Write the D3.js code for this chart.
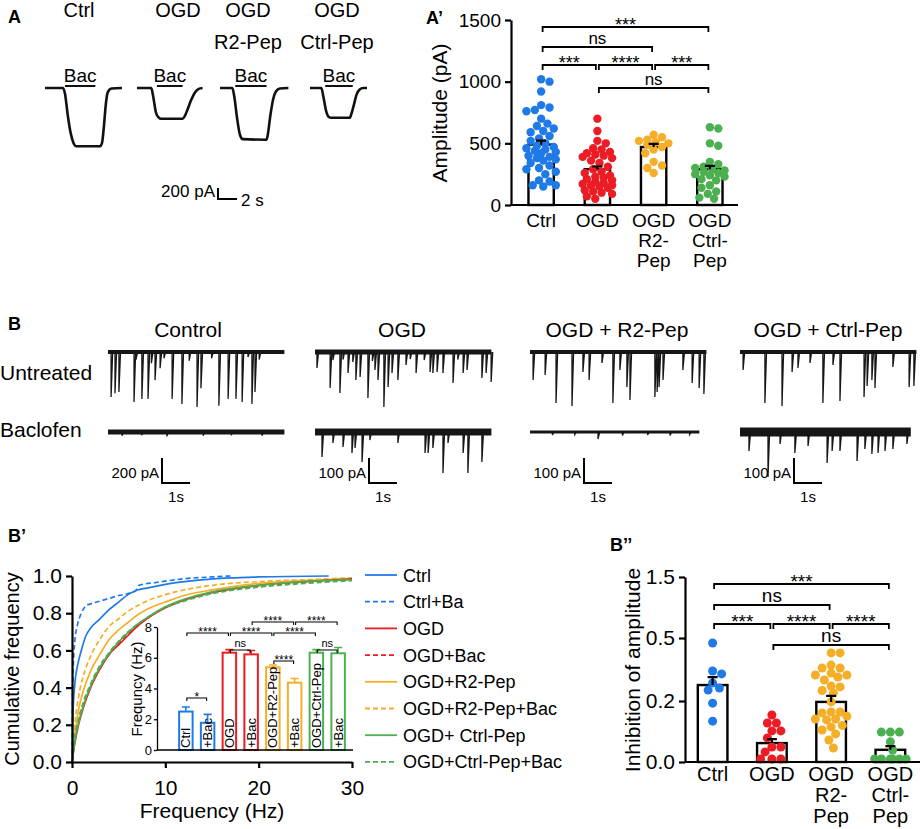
<!DOCTYPE html>
<html>
<head>
<meta charset="utf-8">
<script src="https://cdn.jsdelivr.net/npm/d3@7"></script>
<style>
  body { margin: 0; background: #fff; }
  svg text { font-family: "Liberation Sans", Arial, sans-serif; fill: #000; }
</style>
</head>
<body>
<svg id="fig" width="920" height="829"></svg>
<script>
// ---------------- data ----------------
var groupColors = ["#1f7ae8", "#ec1c24", "#f5ae27", "#4caf50"];

// Panel A: baclofen evoked currents, [time s, current pA]
var aTitleTop = ["Ctrl", "OGD", "OGD", "OGD"];
var aTitleSub = ["", "", "R2-Pep", "Ctrl-Pep"];
var aTraceCtrl = [[0,0],[1.9,0],[2.1,-100],[2.4,-500],[2.7,-820],[3.0,-1000],[3.3,-1060],[5.8,-1060],[6.0,-1000],[6.2,-700],[6.4,-300],[6.6,-80],[7.0,-10],[8.1,0]];
var aTraceOgd = [[0,0],[1.5,0],[1.7,-150],[2.0,-450],[2.3,-540],[2.5,-560],[4.8,-560],[5.0,-520],[5.3,-400],[5.7,-220],[6.1,-80],[6.5,-15],[6.9,0]];
var aTraceR2 = [[0,0],[1.3,0],[1.5,-150],[1.8,-550],[2.1,-850],[2.4,-930],[4.9,-940],[5.0,-880],[5.3,-500],[5.6,-200],[5.9,-60],[6.3,-10],[7.2,0]];
var aTraceCp = [[0,0],[1.2,0],[1.4,-150],[1.7,-420],[2.0,-530],[2.2,-540],[4.2,-540],[4.3,-500],[4.6,-320],[4.9,-120],[5.2,-30],[5.6,0],[6.0,0]];
var aBacOnOff = [[2.1,5.3],[2.1,4.8],[1.6,4.9],[1.6,4.5]];

// Panel A': amplitude (pA)
var ampGroups = [["Ctrl"], ["OGD"], ["OGD","R2-","Pep"], ["OGD","Ctrl-","Pep"]];
var ampMean = [490, 290, 470, 290];
var ampSem = [32, 22, 25, 28];
var ampCtrl = [1020,1000,920,810,790,770,760,700,660,640,620,600,590,560,540,520,500,480,470,460,450,440,430,420,400,390,380,370,360,340,320,300,290,270,250,200,190,160,160,150];
var ampOgd = [700,600,520,500,460,450,430,420,410,400,390,380,360,340,310,290,270,260,240,230,220,210,200,190,180,170,160,160,150,140,120,110,100,90,70,50];
var ampR2 = [570,550,530,520,510,500,490,470,450,420,350,320,300,260];
var ampCp = [630,620,500,480,350,330,310,300,290,280,270,260,250,240,230,210,200,160,140,110,90,60,50];
var ampTicks = [0, 500, 1000, 1500];
// [group a, group b, label, row]
var ampSig = [[0,3,"***",0],[0,2,"ns",1],[0,1,"***",2],[1,2,"****",2],[2,3,"***",2],[1,3,"ns",3]];

// Panel B: sIPSC traces, events [time s, amplitude pA]
var bTitles = ["Control", "OGD", "OGD + R2-Pep", "OGD + Ctrl-Pep"];
var bScalePA = [200, 100, 100, 100];
var bDurUntreated = [6.3, 6.3, 6.3, 6.3];
var bDurBaclofen = [6.3, 6.3, 6.05, 6.1];
var evCtrlU = [[0.11,360],[0.25,330],[0.39,320],[0.93,400],[1.0,60],[1.21,375],[1.43,375],[1.55,90],[1.68,225],[1.86,130],[2.0,50],[2.29,375],[2.64,415],[2.9,70],[3.18,440],[3.32,290],[3.7,50],[3.96,430],[4.29,375],[4.57,375],[4.79,400],[5.0,40],[5.14,415],[5.25,320],[5.4,60]];
var evCtrlB = [[0.5,30],[1.2,25],[2.1,35],[3.4,30],[4.4,25],[5.5,30]];
var evOgdU = [[0.07,64],[0.54,144],[0.64,32],[0.89,164],[1.0,30],[1.18,84],[1.35,40],[1.46,112],[1.61,100],[1.89,184],[2.05,36],[2.14,72],[2.25,112],[2.46,220],[2.61,140],[2.75,84],[2.96,112],[3.25,52],[3.4,28],[3.61,84],[3.9,32],[4.11,80],[4.21,84],[4.36,80],[4.57,84],[4.93,124],[5.1,30],[5.29,84],[5.43,72],[5.96,104],[6.11,84],[6.29,120]];
var evOgdB = [[0.25,100],[0.64,44],[1.0,60],[1.32,84],[1.43,64],[1.68,120],[1.96,32],[2.96,44],[3.93,84],[4.04,84],[4.21,64],[4.57,164],[4.75,44],[5.29,84],[5.46,164],[5.96,120]];
var evR2U = [[0.11,112],[0.54,92],[0.93,204],[1.5,216],[1.89,80],[2.11,112],[2.57,44],[2.96,204],[3.21,72],[3.46,140],[3.57,192],[4.46,180],[4.54,160],[4.61,140],[4.75,112],[5.46,72],[5.79,124],[6.04,144],[6.21,168]];
var evR2B = [[0.8,12],[1.6,10],[2.43,28],[3.3,14],[4.2,12],[5.0,14],[5.7,10]];
var evCpU = [[0.11,72],[0.89,204],[1.5,216],[1.86,80],[2.07,64],[2.5,44],[2.96,204],[3.32,52],[3.57,196],[4.43,180],[4.54,136],[4.71,112],[4.82,144],[5.46,60],[6.04,140],[6.21,136]];
var evCpB = [[0.32,76],[1.0,180],[1.43,48],[1.96,84],[2.43,56],[3.11,124],[3.29,76],[3.57,76],[4.18,116],[4.46,68],[4.71,88],[4.93,84],[5.18,76],[5.46,68],[5.96,48]];

// Panel B': cumulative frequency, [Hz, fraction]
var cumLabels = ["Ctrl","Ctrl+Ba","OGD","OGD+Bac","OGD+R2-Pep","OGD+R2-Pep+Bac","OGD+ Ctrl-Pep","OGD+Ctrl-Pep+Bac"];
var cumCtrl = [[0,0],[0.1,0.25],[0.3,0.42],[0.6,0.52],[1,0.6],[1.5,0.68],[2,0.72],[3,0.77],[4,0.82],[5,0.86],[6,0.9],[7,0.925],[8,0.935],[10,0.955],[13,0.975],[17,0.99],[20,0.995],[27.5,1.0]];
var cumCtrlBac = [[0,0],[0.1,0.45],[0.3,0.65],[0.6,0.74],[1,0.8],[1.5,0.84],[2,0.85],[3,0.865],[4,0.88],[5,0.895],[6,0.905],[6.8,0.92],[7.2,0.95],[9,0.965],[12,0.985],[15,0.995],[17,1.0]];
var cumOgd = [[0,0],[0.3,0.1],[0.7,0.2],[1.2,0.29],[2,0.4],[3,0.5],[4,0.58],[5,0.63],[6,0.68],[7,0.73],[8,0.77],[10,0.83],[12,0.87],[15,0.91],[20,0.95],[25,0.97],[30,0.985]];
var cumOgdBac = [[0,0],[0.3,0.12],[0.7,0.22],[1.2,0.31],[2,0.41],[3,0.51],[4,0.58],[5,0.64],[6,0.69],[7,0.73],[8,0.77],[10,0.83],[12,0.87],[15,0.91],[20,0.945],[25,0.965],[30,0.98]];
var cumR2 = [[0,0],[0.3,0.15],[0.7,0.28],[1.2,0.38],[2,0.49],[3,0.58],[4,0.66],[5,0.71],[6,0.75],[7,0.79],[8,0.82],[10,0.86],[12,0.895],[15,0.925],[20,0.96],[25,0.975],[30,0.985]];
var cumR2Bac = [[0,0],[0.3,0.2],[0.7,0.35],[1.2,0.46],[2,0.57],[3,0.66],[4,0.73],[5,0.77],[6,0.81],[7,0.84],[8,0.865],[10,0.9],[12,0.925],[15,0.95],[20,0.97],[25,0.98],[30,0.99]];
var cumCp = [[0,0],[0.3,0.11],[0.7,0.21],[1.2,0.3],[2,0.41],[3,0.51],[4,0.585],[5,0.645],[6,0.695],[7,0.74],[8,0.775],[10,0.835],[12,0.875],[15,0.915],[20,0.95],[25,0.97],[30,0.98]];
var cumCpBac = [[0,0],[0.3,0.13],[0.7,0.23],[1.2,0.32],[2,0.42],[3,0.52],[4,0.59],[5,0.65],[6,0.7],[7,0.74],[8,0.775],[10,0.83],[12,0.865],[15,0.905],[20,0.94],[25,0.96],[30,0.975]];

// B' inset: mean frequency (Hz)
var freqLabels = ["Ctrl","+Bac","OGD","+Bac","OGD+R2-Pep","+Bac","OGD+Ctrl-Pep","+Bac"];
var freqMean = [2.5, 1.77, 6.33, 6.22, 5.38, 4.38, 6.33, 6.29];
var freqSem = [0.3, 0.55, 0.2, 0.25, 0.15, 0.27, 0.2, 0.38];
var freqSig = [[0,1,"*",4],[0,2,"****",1],[2,4,"****",1],[4,6,"****",1],[3,5,"****",0],[5,7,"****",0],[2,3,"ns",2],[6,7,"ns",2],[4,5,"****",3]];

// Panel B'': inhibition of amplitude
var inhMean = [0.276, 0.062, 0.197, 0.040];
var inhSem = [0.038, 0.013, 0.027, 0.012];
var inhCtrl = [0.476,0.343,0.329,0.286,0.262,0.252,0.193,0.134];
var inhOgd = [0.154,0.128,0.128,0.102,0.102,0.079,0.049,0.049,0.033,0.01,0.01,0.01];
var inhR2 = [0.429,0.429,0.371,0.357,0.357,0.333,0.324,0.324,0.314,0.30,0.271,0.267,0.25,0.238,0.197,0.164,0.164,0.161,0.15,0.141,0.141,0.138,0.12,0.115,0.105,0.092,0.072,0.046];
var inhCp = [0.098,0.098,0.098,0.066,0.039,0.01,0.01,0.01,0.01,0.01,0.01];
var inhTicks = [0, 0.2, 0.5, 1.5];
var inhSig = [[0,3,"***",0],[0,2,"ns",1],[0,1,"***",2],[1,2,"****",2],[2,3,"****",2],[1,3,"ns",3]];

// ---------------- helpers ----------------
var svg = d3.select("#fig");

function label(x, y, s, size, anchor, weight) {
  return svg.append("text").attr("x", x).attr("y", y)
    .attr("text-anchor", anchor || "start")
    .attr("font-size", size).attr("font-weight", weight || "normal").text(s);
}
function vlabel(x, y, s, size) {
  return svg.append("text").attr("transform", "translate(" + x + "," + y + ") rotate(-90)")
    .attr("text-anchor", "middle").attr("font-size", size).text(s);
}
function styleAxis(g, size, w) {
  g.attr("font-size", size);
  g.select(".domain").attr("stroke-width", w).attr("stroke", "#000");
  g.selectAll(".tick line").attr("stroke-width", w).attr("stroke", "#000");
}
function bracket(g, x1, x2, y, drop, text, starSize, nsSize, lw) {
  g.append("path").attr("d", "M" + x1 + "," + (y + drop) + "V" + y + "H" + x2 + "V" + (y + drop))
    .attr("fill", "none").attr("stroke", "#000").attr("stroke-width", lw);
  var isNs = text === "ns";
  g.append("text").attr("x", (x1 + x2) / 2)
    .attr("y", isNs ? y - 3 : y + starSize * 0.22)
    .attr("text-anchor", "middle").attr("font-size", isNs ? nsSize : starSize).text(text);
}
// simple deterministic beeswarm
function swarm(vals, y, r, maxOff) {
  var placed = [];
  var pts = vals.map(function(v) { return {v: v, y: y(v)}; }).sort(function(a, b) { return a.y - b.y; });
  var step = r * 0.5, n = Math.floor(maxOff / step);
  pts.forEach(function(p) {
    var best = 0, bestScore = Infinity;
    for (var k = 0; k <= 2 * n; k++) {
      var off = (k % 2 ? 1 : -1) * Math.ceil(k / 2) * step;
      var overlap = 0;
      placed.forEach(function(q) {
        var d = Math.hypot(q.x - off, q.y - p.y);
        if (d < 2 * r * 0.95) overlap += 2 * r * 0.95 - d;
      });
      var score = overlap * 10 + Math.abs(off);
      if (score < bestScore) { bestScore = score; best = off; }
    }
    p.x = best; placed.push(p);
  });
  return placed;
}

// dot + bar panel (A' and B'')
function dotBarPanel(o) {
  var g = svg.append("g");
  var x = d3.scaleBand().domain(d3.range(o.means.length)).range(o.xRange)
    .paddingInner(o.pad).paddingOuter(o.pad / 2);
  var y = o.y;
  var cx = function(i) { return x(i) + x.bandwidth() / 2; };

  o.means.forEach(function(m, i) {
    g.append("rect").attr("x", x(i)).attr("y", y(m)).attr("width", x.bandwidth())
      .attr("height", y(0) - y(m)).attr("fill", "#fff").attr("stroke", "#000").attr("stroke-width", 2.4);
  });
  o.points.forEach(function(vals, i) {
    swarm(vals, y, o.r, o.spread).forEach(function(p) {
      g.append("circle").attr("cx", cx(i) + p.x).attr("cy", p.y).attr("r", o.r).attr("fill", groupColors[i]);
    });
  });
  o.means.forEach(function(m, i) {
    var top = y(m + o.sem[i]);
    g.append("path").attr("d", "M" + cx(i) + "," + y(m) + "V" + top + "M" + (cx(i) - 5) + "," + top + "H" + (cx(i) + 5))
      .attr("stroke", "#000").attr("stroke-width", 2.2).attr("fill", "none");
  });

  var ax = g.append("g").attr("transform", "translate(" + o.axisX + ",0)")
    .call(d3.axisLeft(y).tickValues(o.ticks).tickFormat(o.fmt).tickSize(6).tickSizeOuter(0).tickPadding(4));
  styleAxis(ax, o.tickSize, 2.2);
  g.append("line").attr("x1", o.axisX).attr("x2", o.xRange[1]).attr("y1", y(0)).attr("y2", y(0))
    .attr("stroke", "#000").attr("stroke-width", 2.2);

  o.groups.forEach(function(lines, i) {
    lines.forEach(function(s, k) {
      g.append("text").attr("x", cx(i)).attr("y", o.labelY + k * o.lineGap)
        .attr("text-anchor", "middle").attr("font-size", o.labelSize).text(s);
    });
  });
  o.sig.forEach(function(s) {
    var x1 = cx(s[0]) + 1.5, x2 = cx(s[1]) - 1.5;
    bracket(g, x1, x2, o.rows[s[3]], 5, s[2], o.starSize, o.nsSize, 1.8);
  });
}

// ---------------- Panel A ----------------
label(8, 23, "A", 18, "start", "bold");
var aStarts = [45, 137, 220, 310];
var aTitleX = [79, 178, 248, 337];
var aBase = 88;
var aTime = d3.scaleLinear().domain([0, 2]).range([0, 19]);
var aCur = d3.scaleLinear().domain([0, -200]).range([0, 11]);
[aTraceCtrl, aTraceOgd, aTraceR2, aTraceCp].forEach(function(tr, i) {
  var x0 = aStarts[i];
  var line = d3.line().x(function(d) { return x0 + aTime(d[0]); })
    .y(function(d) { return aBase + aCur(d[1]); }).curve(d3.curveMonotoneX);
  svg.append("path").attr("d", line(tr)).attr("fill", "none").attr("stroke", "#111")
    .attr("stroke-width", 2.6).attr("stroke-linejoin", "round");
  var b1 = x0 + aTime(aBacOnOff[i][0]), b2 = x0 + aTime(aBacOnOff[i][1]);
  svg.append("line").attr("x1", b1).attr("x2", b2).attr("y1", aBase - 2).attr("y2", aBase - 2)
    .attr("stroke", "#111").attr("stroke-width", 2);
  label((b1 + b2) / 2, aBase - 6, "Bac", 19, "middle");
  label(aTitleX[i], 17, aTitleTop[i], 20, "middle");
  if (aTitleSub[i]) label(aTitleX[i], 49, aTitleSub[i], 20, "middle");
});
// scale bar
svg.append("path").attr("d", "M218," + (199 - aCur(-200)) + "V199H" + (218 + aTime(2)))
  .attr("fill", "none").attr("stroke", "#000").attr("stroke-width", 2);
label(215, 197, "200 pA", 17, "end");
label(241, 206, "2 s", 17, "start");

// ---------------- Panel A' ----------------
label(426, 24, "A\u2019", 18, "start", "bold");
vlabel(447, 113, "Amplitude (pA)", 21);
dotBarPanel({
  means: ampMean, sem: ampSem, points: [ampCtrl, ampOgd, ampR2, ampCp], groups: ampGroups,
  y: d3.scaleLinear().domain([0, 1500]).range([205, 20]),
  xRange: [513, 738], pad: 0.55, axisX: 511, ticks: ampTicks, fmt: d3.format("d"),
  tickSize: 19, r: 4.2, spread: 15, labelY: 227, lineGap: 20, labelSize: 19,
  rows: [27, 47, 65, 88], starSize: 18, nsSize: 17, sig: ampSig
});

// ---------------- Panel B ----------------
label(8, 330, "B", 18, "start", "bold");
label(0, 380, "Untreated", 21, "start");
label(0, 437, "Baclofen", 21, "start");
var bStarts = [108, 315, 530, 740];
var bTitleX = [188, 402, 617, 828];
var bBaseU = 352, bBaseB = 432;
var bTime = d3.scaleLinear().domain([0, 1]).range([0, 28]);
var bEventsU = [evCtrlU, evOgdU, evR2U, evCpU];
var bEventsB = [evCtrlB, evOgdB, evR2B, evCpB];
var bNoiseU = [4, 5, 4, 4];
var bNoiseB = [5, 7, 3, 9];

function drawTrace(x0, base, dur, events, amp, noise) {
  svg.append("line").attr("x1", x0).attr("x2", x0 + bTime(dur)).attr("y1", base).attr("y2", base)
    .attr("stroke", "#161616").attr("stroke-width", noise);
  var d = "";
  events.forEach(function(e) {
    var x = x0 + bTime(e[0]);
    d += "M" + x + "," + base + "L" + x + "," + (base + amp(e[1])) + "L" + (x + 1.6) + "," + base;
  });
  svg.append("path").attr("d", d).attr("fill", "none").attr("stroke", "#161616").attr("stroke-width", 1.3);
}
bTitles.forEach(function(t, i) {
  label(bTitleX[i], 337, t, 21, "middle");
  var amp = d3.scaleLinear().domain([0, bScalePA[i]]).range([0, 25]);
  drawTrace(bStarts[i], bBaseU, bDurUntreated[i], bEventsU[i], amp, bNoiseU[i]);
  drawTrace(bStarts[i], bBaseB, bDurBaclofen[i], bEventsB[i], amp, bNoiseB[i]);
  var sx = bStarts[i] + 54;
  svg.append("path").attr("d", "M" + sx + ",458V" + (458 + amp(bScalePA[i])) + "H" + (sx + bTime(1)))
    .attr("fill", "none").attr("stroke", "#000").attr("stroke-width", 2);
  label(sx - 3, 478, bScalePA[i] + " pA", 15, "end");
  label(sx + bTime(0.5), 502, "1s", 15, "middle");
});

// ---------------- Panel B' ----------------
label(8, 542, "B\u2019", 18, "start", "bold");
var bpX = d3.scaleLinear().domain([0, 30]).range([72, 352]);
var bpY = d3.scaleLinear().domain([0, 1]).range([762, 576]);
var cumSeries = [cumCtrl, cumCtrlBac, cumOgd, cumOgdBac, cumR2, cumR2Bac, cumCp, cumCpBac];
var cumColor = function(i) { return groupColors[Math.floor(i / 2)]; };
var cumDash = function(i) { return i % 2 ? "5,3" : null; };
var cumLine = d3.line().x(function(d) { return bpX(d[0]); }).y(function(d) { return bpY(d[1]); })
  .curve(d3.curveMonotoneX);
[4, 5, 2, 3, 6, 7, 0, 1].forEach(function(i) {
  svg.append("path").attr("d", cumLine(cumSeries[i])).attr("fill", "none")
    .attr("stroke", cumColor(i)).attr("stroke-width", 1.7).attr("stroke-dasharray", cumDash(i));
});
var bpAxY = svg.append("g").attr("transform", "translate(72,0)")
  .call(d3.axisLeft(bpY).tickValues([0, 0.2, 0.4, 0.6, 0.8, 1]).tickFormat(d3.format(".1f")).tickSize(6).tickSizeOuter(0).tickPadding(4));
styleAxis(bpAxY, 21, 2.2);
var bpAxX = svg.append("g").attr("transform", "translate(0,762)")
  .call(d3.axisBottom(bpX).tickValues([0, 10, 20, 30]).tickSize(6).tickSizeOuter(0).tickPadding(12));
styleAxis(bpAxX, 21, 2.2);
vlabel(19, 669, "Cumulative frequency", 20);
label(212, 818, "Frequency (Hz)", 21, "middle");

// legend
cumLabels.forEach(function(s, i) {
  var y = 575 + i * 26.7;
  svg.append("line").attr("x1", 365).attr("x2", 397).attr("y1", y).attr("y2", y)
    .attr("stroke", cumColor(i)).attr("stroke-width", 1.8).attr("stroke-dasharray", cumDash(i));
  label(403, y + 6.5, s, 18, "start");
});

// inset
var inX = d3.scaleBand().domain(d3.range(freqMean.length)).range([175, 349]).paddingInner(0.38).paddingOuter(0.19);
var inY = d3.scaleLinear().domain([0, 8]).range([750, 627]);
var inC = function(i) { return inX(i) + inX.bandwidth() / 2; };
var inG = svg.append("g");
freqMean.forEach(function(m, i) {
  var col = cumColor(i);
  inG.append("rect").attr("x", inX(i)).attr("y", inY(m)).attr("width", inX.bandwidth())
    .attr("height", inY(0) - inY(m)).attr("fill", "#fff").attr("stroke", col).attr("stroke-width", 2);
  var top = inY(m + freqSem[i]);
  inG.append("path").attr("d", "M" + inC(i) + "," + inY(m) + "V" + top + "M" + (inC(i) - 4) + "," + top + "H" + (inC(i) + 4))
    .attr("stroke", col).attr("stroke-width", 1.6).attr("fill", "none");
  inG.append("text").attr("transform", "translate(" + (inC(i) + 4.6) + ",748) rotate(-90)")
    .attr("font-size", 13).text(freqLabels[i]);
});
var inAx = inG.append("g").attr("transform", "translate(157,0)")
  .call(d3.axisLeft(inY).tickValues([0, 2, 4, 6, 8]).tickSize(3).tickSizeOuter(0).tickPadding(2));
styleAxis(inAx, 13, 1.3);
inG.append("line").attr("x1", 157).attr("x2", 353).attr("y1", 750).attr("y2", 750)
  .attr("stroke", "#000").attr("stroke-width", 1.3);
vlabel(142, 689, "Frequncy (Hz)", 15);
var inRows = [622, 633, 650, 661, 698];
freqSig.forEach(function(s) {
  bracket(inG, inC(s[0]) + 1, inC(s[1]) - 1, inRows[s[3]], 3, s[2], 12, 11, 1.1);
});

// ---------------- Panel B'' ----------------
label(610, 551, "B\u2019\u2019", 18, "start", "bold");
vlabel(640, 670, "Inhibition of amplitude", 21);
dotBarPanel({
  means: inhMean, sem: inhSem, points: [inhCtrl, inhOgd, inhR2, inhCp], groups: ampGroups,
  y: d3.scaleLinear().domain([0, 0.2, 0.5, 1.5]).range([762, 701, 638, 577]),
  xRange: [683, 920], pad: 0.5, axisX: 685, ticks: inhTicks, fmt: d3.format(".1f"),
  tickSize: 21, r: 4.5, spread: 16, labelY: 781, lineGap: 21, labelSize: 20,
  rows: [584, 605, 624, 645], starSize: 19, nsSize: 19, sig: inhSig
});
</script>
</body>
</html>
